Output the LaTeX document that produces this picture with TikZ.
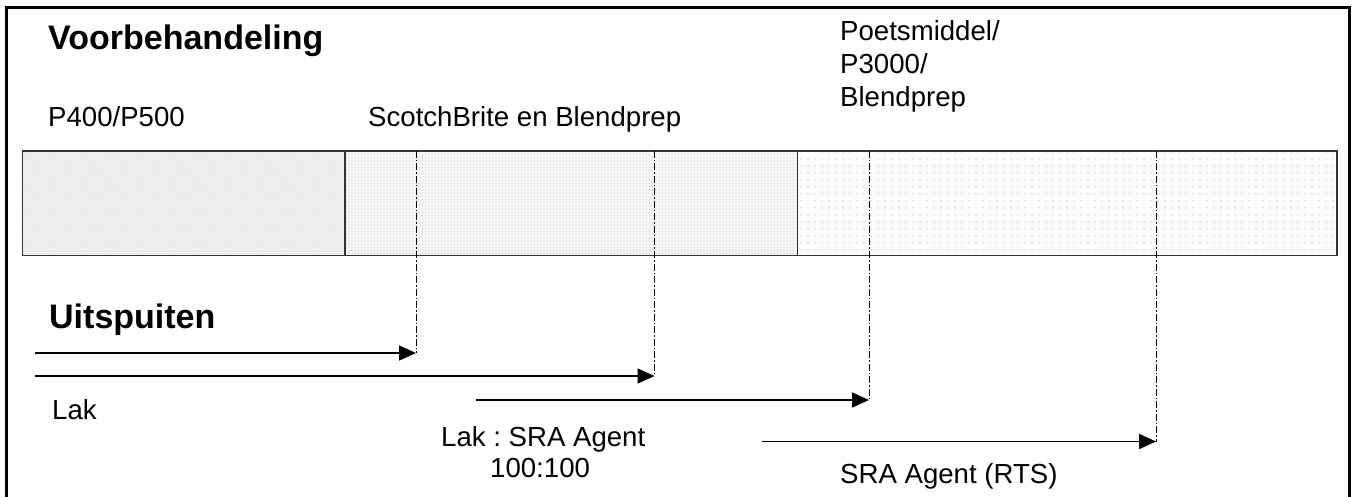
\documentclass[tikz,border=0pt]{standalone}
\usepackage{fontspec}
\setmainfont{Liberation Sans}
\frenchspacing
\usetikzlibrary{arrows.meta,patterns,patterns.meta}
\tikzset{
  txt/.style={anchor=base west, inner sep=0pt, font=\fontsize{27.6}{33}\selectfont},
  head/.style={anchor=base west, inner sep=0pt, font=\fontsize{34}{38}\selectfont\bfseries},
  sect/.style={draw=black!80, line width=1.5pt},
  guide/.style={line width=1pt, dash pattern=on 7pt off 2pt on 1.5pt off 2pt},
  arr/.style={line width=1.7pt, -{Triangle[length=17pt,width=15pt]}}
}
\begin{document}
\begin{tikzpicture}[x=1pt,y=-1pt]
\useasboundingbox (0,0) rectangle (1352,497);
% frame
\begin{scope}
\clip (0,0) rectangle (1352,497);
\draw[line width=3pt] (6.5,510) -- (6.5,7.5) -- (1349.5,7.5) -- (1349.5,510);
\end{scope}
% headings and labels
\node[head] (vb) at (48,50) {Voorbehandeling};
\node[txt] (p400) at (48,127) {P400/P500};
\node[txt] (scb) at (368,127) {ScotchBrite en Blendprep};
\node[txt, align=left, anchor=north west, font=\fontsize{27.6}{33}\selectfont] (poets) at (840,20.5) {Poetsmiddel/\\P3000/\\Blendprep};
\node[head] (uit) at (49,328) {Uitspuiten};
\node[txt] (lak) at (52,419) {Lak};
\node[txt] (lsra) at (441,446) {Lak : SRA Agent};
\node[txt] (hund) at (490,477) {100:100};
\node[txt] (rts) at (840,483) {SRA Agent (RTS)};
% bar sections
\path[fill=gray!16] (22.7,151) rectangle (345,255.7);
\path[pattern=checkerboard, pattern color=gray!14] (22.7,151) rectangle (345,255.7);
\path[fill=gray!7] (345,151) rectangle (797.7,255.7);
\path[pattern={Dots[distance=3.2pt,radius=0.6pt]}, pattern color=gray!35] (345,151) rectangle (797.7,255.7);
\path[fill=gray!3] (797.7,151) rectangle (1337,255.7);
\path[pattern={Dots[distance=6.5pt,radius=0.8pt,xshift=2pt]}, pattern color=gray!40] (797.7,151) rectangle (1337,255.7);
\draw[sect] (22.7,151) rectangle (345,255.7);
\draw[sect] (345,151) rectangle (797.7,255.7);
\draw[sect] (797.7,151) rectangle (1337,255.7);
% coordinates
\coordinate (g1t) at (416,151);   \coordinate (g1b) at (416,353);
\coordinate (g2t) at (654.5,151); \coordinate (g2b) at (654.5,376);
\coordinate (g3t) at (869,151);   \coordinate (g3b) at (869,400);
\coordinate (g4t) at (1156,151);  \coordinate (g4b) at (1156,441.5);
\coordinate (a1) at (35,353);
\coordinate (a2) at (35,376);
\coordinate (a3) at (476,400);
\coordinate (a4) at (762,441.5);
% guides
\draw[guide] (g1t) -- (g1b);
\draw[guide] (g2t) -- (g2b);
\draw[guide] (g3t) -- (g3b);
\draw[guide] (g4t) -- (g4b);
% arrows
\draw[arr] (a1) -- (g1b);
\draw[arr] (a2) -- (g2b);
\draw[arr] (a3) -- (g3b);
\draw[arr] (a4) -- (g4b);
\end{tikzpicture}
\end{document}
